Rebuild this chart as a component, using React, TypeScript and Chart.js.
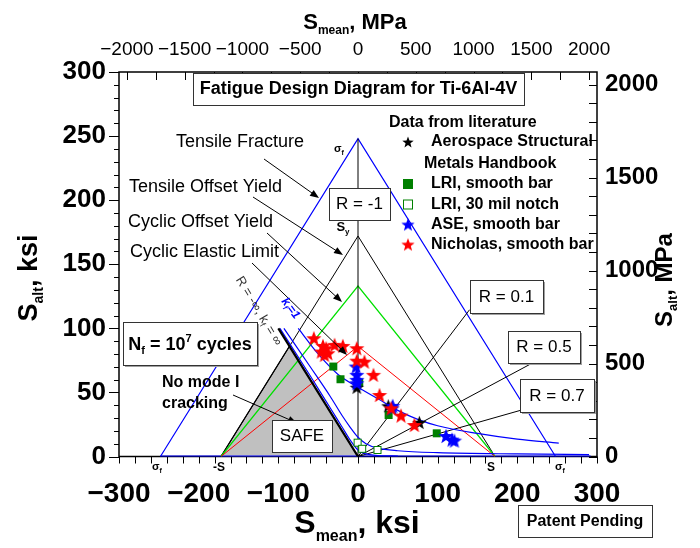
import React, { useEffect, useRef } from 'react';
import { Chart, registerables } from 'chart.js';

Chart.register(...registerables);

const FONT = '"Liberation Sans", Arial, Helvetica, sans-serif';
const MPA_PER_KSI = 6.89476;

// ---- axes (ksi on bottom/left, MPa on top/right) ----
const xMinKsi = -300;
const xMaxKsi = 300;
const yMinKsi = 0;
const yMaxKsi = 300;
const bottomLabelValues = [-300, -200, -100, 0, 100, 200, 300];
const leftLabelValues = [0, 50, 100, 150, 200, 250, 300];
const topTickValues = [-2000, -1750, -1500, -1250, -1000, -750, -500, -250, 0, 250, 500, 750, 1000, 1250, 1500, 1750, 2000];
const topLabelValues = [-2000, -1500, -1000, -500, 0, 500, 1000, 1500, 2000];
const rightTickValues = [0, 100, 200, 300, 400, 500, 600, 700, 800, 900, 1000, 1100, 1200, 1300, 1400, 1500, 1600, 1700, 1800, 1900, 2000];
const rightLabelValues = [0, 500, 1000, 1500, 2000];

// ---- envelope lines (Smean, Salt in ksi) ----
const fractureMean = [-248, 0, 248];
const fractureAlt = [0, 248, 0];
const tensileYieldMean = [-172, 0, 172];
const tensileYieldAlt = [0, 172, 0];
const cyclicYieldMean = [-172, 0, 172];
const cyclicYieldAlt = [0, 133, 0];
const elasticLimitMean = [-172, 0, 172];
const elasticLimitAlt = [0, 86, 0];
const safeMean = [-172, -86, 0];
const safeAlt = [0, 86, 0];
const rMinusInfMean = [-100, 0];
const rMinusInfAlt = [100, 0];
const rMinusOneMean = [0, 0];
const rMinusOneAlt = [0, 248];
const rRatioEndMean = [140, 217, 205];
const rRatioEndAlt = [114.5, 72.3, 36.2];
const kf1Mean = [-75, -50, -25, 0, 25, 50, 75, 100, 150, 200, 252];
const kf1Alt = [100, 80, 64, 54, 45, 36, 29, 24, 18, 13.5, 10.5];
const kfMidMean = [-93, -60, -35, -20, -10, 0, 10, 25, 50, 100, 200, 290];
const kfMidAlt = [100, 70, 47, 32, 23, 15, 10, 6.5, 4.5, 3, 2, 1.5];
const kfInfMean = [-98, -60, -35, -20, -10, 0, 10, 25, 50];
const kfInfAlt = [100, 63, 38, 23, 13, 5, 2, 0.8, 0.3];
const baselineMean = [-248, 292];
const baselineAlt = [0, 0];

// ---- literature data (Smean, Salt in ksi) ----
const asmhMean = [-1.5, 38, 77];
const asmhAlt = [54, 39.5, 26.6];
const lriSmoothMean = [-31, -22, 1.5, 38.4, 98.8];
const lriSmoothAlt = [70.2, 60.3, 57.5, 32.4, 18.1];
const lriNotchMean = [-0.5, 5.2, 24.4];
const lriNotchAlt = [10.8, 6, 5.1];
const aseMean = [-2.3, -1.5, -1.5, -1.5, 43.6, 42.8, 110.5, 121, 118];
const aseAlt = [70.2, 63.7, 59.8, 57.2, 39.5, 37.6, 16, 12.4, 13.2];
const nicholasMean = [-55.4, -44, -46, -37.8, -42, -40, -29.4, -19, -1.5, -1.5, 8.1, 19.4, 27, 41.6, 54, 70.8];
const nicholasAlt = [92.3, 86.3, 81.9, 80.6, 79.3, 84.5, 87.1, 86.3, 84.5, 74.8, 74, 63.7, 48, 37.6, 31.9, 24.6];

const pts = (xs: number[], ys: number[]) => xs.map((x, i) => ({ x, y: ys[i] }));
const fmt = (v: number) => (v < 0 ? '\u2212' + Math.abs(v) : String(v));
const near = (arr: number[], v: number) => arr.some((a) => Math.abs(a - v) < 1e-6);

function makeStar(color: string, R: number) {
  const r = R * 0.42;
  const size = Math.ceil(R * 2 + 2);
  const c = document.createElement('canvas');
  c.width = size;
  c.height = size;
  const g = c.getContext('2d')!;
  g.translate(size / 2, size / 2 + R * 0.095);
  g.beginPath();
  for (let i = 0; i < 10; i++) {
    const ang = -Math.PI / 2 + (i * Math.PI) / 5;
    const rad = i % 2 === 0 ? R : r;
    const px = Math.cos(ang) * rad;
    const py = Math.sin(ang) * rad;
    if (i === 0) g.moveTo(px, py);
    else g.lineTo(px, py);
  }
  g.closePath();
  g.fillStyle = color;
  g.fill();
  return c;
}

function makeSquare(fill: string, stroke: string, side: number) {
  const size = side + 2;
  const c = document.createElement('canvas');
  c.width = size;
  c.height = size;
  const g = c.getContext('2d')!;
  g.fillStyle = fill;
  g.fillRect(1, 1, side, side);
  if (stroke) {
    g.strokeStyle = stroke;
    g.lineWidth = 1;
    g.strokeRect(1.5, 1.5, side - 1, side - 1);
  }
  return c;
}

function font(size: number, weight = 'normal', style = 'normal') {
  return `${style} ${weight} ${size}px ${FONT}`;
}

type Part = { t: string; size: number; weight?: string; style?: string; dy?: number; color?: string };

function drawRich(ctx: CanvasRenderingContext2D, parts: Part[], x: number, y: number, align: 'left' | 'center') {
  let w = 0;
  for (const p of parts) {
    ctx.font = font(p.size, p.weight || 'normal', p.style || 'normal');
    w += ctx.measureText(p.t).width;
  }
  let cx = align === 'center' ? x - w / 2 : x;
  ctx.textAlign = 'left';
  ctx.textBaseline = 'alphabetic';
  for (const p of parts) {
    ctx.font = font(p.size, p.weight || 'normal', p.style || 'normal');
    ctx.fillStyle = p.color || '#000';
    ctx.fillText(p.t, cx, y + (p.dy || 0));
    cx += ctx.measureText(p.t).width;
  }
}

function text(ctx: CanvasRenderingContext2D, s: string, x: number, y: number, f: string, align: CanvasTextAlign = 'left', color = '#000') {
  ctx.font = f;
  ctx.fillStyle = color;
  ctx.textAlign = align;
  ctx.textBaseline = 'middle';
  ctx.fillText(s, x, y);
}

function box(ctx: CanvasRenderingContext2D, x: number, y: number, w: number, h: number, shadow = true) {
  if (shadow) {
    ctx.fillStyle = '#a0a0a0';
    ctx.fillRect(x + 2, y + 2, w, h);
  }
  ctx.fillStyle = '#fff';
  ctx.fillRect(x, y, w, h);
  ctx.strokeStyle = '#333';
  ctx.lineWidth = 1;
  ctx.strokeRect(x + 0.5, y + 0.5, w, h);
}

function arrow(ctx: CanvasRenderingContext2D, x1: number, y1: number, x2: number, y2: number) {
  const ang = Math.atan2(y2 - y1, x2 - x1);
  const L = 9;
  const W = 3.5;
  ctx.strokeStyle = '#000';
  ctx.fillStyle = '#000';
  ctx.lineWidth = 1;
  ctx.beginPath();
  ctx.moveTo(x1, y1);
  ctx.lineTo(x2 - Math.cos(ang) * L * 0.8, y2 - Math.sin(ang) * L * 0.8);
  ctx.stroke();
  ctx.beginPath();
  ctx.moveTo(x2, y2);
  ctx.lineTo(x2 - Math.cos(ang) * L - Math.sin(ang) * W, y2 - Math.sin(ang) * L + Math.cos(ang) * W);
  ctx.lineTo(x2 - Math.cos(ang) * L + Math.sin(ang) * W, y2 - Math.sin(ang) * L - Math.cos(ang) * W);
  ctx.closePath();
  ctx.fill();
}

export default function App() {
  const ref = useRef<HTMLCanvasElement>(null);

  useEffect(() => {
    const canvas = ref.current!;
    const starBlack = makeStar('#000000', 7.5);
    const starBlue = makeStar('#0000ff', 8);
    const starRed = makeStar('#ff0000', 8);
    const sqFilled = makeSquare('#008000', '', 8);
    const sqOpen = makeSquare('#ffffff', '#008000', 8);
    const legStarBlack = makeStar('#000000', 6);
    const legStarBlue = makeStar('#0000ff', 7);
    const legStarRed = makeStar('#ff0000', 7);
    const legSqFilled = makeSquare('#008000', '', 10);
    const legSqOpen = makeSquare('#ffffff', '#008000', 10);

    const markers = (label: string, xs: number[], ys: number[], img: HTMLCanvasElement) => ({
      label,
      data: pts(xs, ys),
      showLine: false,
      pointStyle: img,
      pointRadius: 7,
      pointHoverRadius: 7,
      xAxisID: 'x',
      yAxisID: 'y',
    });
    const line = (label: string, xs: number[], ys: number[], color: string, width: number, extra: any = {}) => ({
      label,
      data: pts(xs, ys),
      showLine: true,
      borderColor: color,
      backgroundColor: color,
      borderWidth: width,
      pointRadius: 0,
      pointHoverRadius: 0,
      fill: false,
      tension: 0,
      xAxisID: 'x',
      yAxisID: 'y',
      ...extra,
    });
    const smooth = { cubicInterpolationMode: 'monotone' };

    const datasets: any[] = [
      markers('Nicholas, smooth bar', nicholasMean, nicholasAlt, starRed),
      markers('ASE, smooth bar', aseMean, aseAlt, starBlue),
      markers('Aerospace Structural Metals Handbook', asmhMean, asmhAlt, starBlack),
      markers('LRI, smooth bar', lriSmoothMean, lriSmoothAlt, sqFilled),
      markers('LRI, 30 mil notch', lriNotchMean, lriNotchAlt, sqOpen),
      line('R = -inf', rMinusInfMean, rMinusInfAlt, '#000000', 2.2),
      line('kf = 1', kf1Mean, kf1Alt, '#0000ff', 1.2, smooth),
      line('kf mid', kfMidMean, kfMidAlt, '#0000ff', 1.2, smooth),
      line('kf = inf', kfInfMean, kfInfAlt, '#0000ff', 1.2, smooth),
      line('R = -1', rMinusOneMean, rMinusOneAlt, '#000000', 1),
      line('R = 0.1', [0, rRatioEndMean[0]], [0, rRatioEndAlt[0]], '#000000', 1),
      line('R = 0.5', [0, rRatioEndMean[1]], [0, rRatioEndAlt[1]], '#000000', 1),
      line('R = 0.7', [0, rRatioEndMean[2]], [0, rRatioEndAlt[2]], '#000000', 1),
      line('Cyclic Elastic Limit', elasticLimitMean, elasticLimitAlt, '#ff0000', 1),
      line('Cyclic Offset Yield', cyclicYieldMean, cyclicYieldAlt, '#00e000', 1.2),
      line('Tensile Offset Yield', tensileYieldMean, tensileYieldAlt, '#000000', 1),
      line('Tensile Fracture', fractureMean, fractureAlt, '#0000ff', 1.2),
      line('baseline', baselineMean, baselineAlt, '#0000ff', 2.2),
      line('SAFE', safeMean, safeAlt, '#000000', 1.3, { fill: 'origin', backgroundColor: '#c0c0c0' }),
    ];

    const framePlugin = {
      id: 'frameAndNotes',
      beforeDatasetsDraw(chart: any) {
        const { ctx, chartArea: a, scales } = chart;
        ctx.save();
        ctx.strokeStyle = '#000';
        ctx.lineWidth = 1;
        const seg = (x1: number, y1: number, x2: number, y2: number) => {
          ctx.beginPath();
          ctx.moveTo(x1, y1);
          ctx.lineTo(x2, y2);
          ctx.stroke();
        };
        scales.x.ticks.forEach((t: any) => {
          const px = Math.round(scales.x.getPixelForValue(t.value)) + 0.5;
          seg(px, a.bottom, px, a.bottom + 7);
        });
        scales.y.ticks.forEach((t: any) => {
          const py = Math.round(scales.y.getPixelForValue(t.value)) + 0.5;
          const len = near(leftLabelValues, t.value) ? 10 : 5;
          seg(a.left - len, py, a.left, py);
        });
        scales.x2.ticks.forEach((t: any) => {
          const px = Math.round(scales.x2.getPixelForValue(t.value)) + 0.5;
          seg(px, a.top, px, a.top + 8);
        });
        scales.y2.ticks.forEach((t: any) => {
          const py = Math.round(scales.y2.getPixelForValue(t.value)) + 0.5;
          seg(a.right - 8, py, a.right, py);
        });
        ctx.lineWidth = 1.5;
        ctx.strokeRect(a.left, a.top, a.right - a.left, a.bottom - a.top);
        ctx.restore();
      },
      afterDatasetsDraw(chart: any) {
        const ctx: CanvasRenderingContext2D = chart.ctx;
        ctx.save();

        // title
        box(ctx, 193, 73, 331, 32, false);
        text(ctx, 'Fatigue Design Diagram for Ti-6Al-4V', 358.5, 89.5, font(18, 'bold'), 'center');

        // legend
        text(ctx, 'Data from literature', 389, 122.5, font(16, 'bold'));
        const legImgs = [legStarBlack, legSqFilled, legSqOpen, legStarBlue, legStarRed];
        const legRows = [142, 184, 204.5, 224.5, 244.5];
        const legText = ['Aerospace Structural', 'LRI, smooth bar', 'LRI, 30 mil notch', 'ASE, smooth bar', 'Nicholas, smooth bar'];
        legImgs.forEach((img, i) => {
          ctx.drawImage(img, 408 - img.width / 2, legRows[i] - img.height / 2);
          text(ctx, legText[i], 431, legRows[i], font(16, 'bold'));
        });
        text(ctx, 'Metals Handbook', 424, 163.5, font(16, 'bold'));

        // curve labels and arrows
        text(ctx, 'Tensile Fracture', 176, 142.5, font(18));
        text(ctx, 'Tensile Offset Yield', 129, 187, font(18));
        text(ctx, 'Cyclic Offset Yield', 128, 222, font(18));
        text(ctx, 'Cyclic Elastic Limit', 130, 252.5, font(18));
        arrow(ctx, 264, 159, 319, 198);
        arrow(ctx, 253, 197, 343, 255);
        arrow(ctx, 267, 233, 342, 302);
        arrow(ctx, 252, 263, 347, 355);

        // R boxes
        box(ctx, 329, 188, 61, 32, false);
        text(ctx, 'R = -1', 359.5, 204.5, font(17), 'center');
        box(ctx, 470, 280, 73, 33);
        text(ctx, 'R = 0.1', 506.5, 297, font(17), 'center');
        box(ctx, 508, 331, 72, 32);
        text(ctx, 'R = 0.5', 544, 347.5, font(17), 'center');
        box(ctx, 520, 379, 74, 33);
        text(ctx, 'R = 0.7', 557, 396, font(17), 'center');

        // Nf box
        box(ctx, 123, 322, 134, 43);
        drawRich(ctx, [
          { t: 'N', size: 18, weight: 'bold' },
          { t: 'f', size: 11, weight: 'bold', dy: 4 },
          { t: ' = 10', size: 18, weight: 'bold' },
          { t: '7', size: 11, weight: 'bold', dy: -8 },
          { t: ' cycles', size: 18, weight: 'bold' },
        ], 190, 350, 'center');

        // no mode I cracking
        text(ctx, 'No mode I', 162, 383, font(16, 'bold'));
        text(ctx, 'cracking', 162, 404, font(16, 'bold'));
        arrow(ctx, 233, 395, 297, 423);

        // SAFE
        box(ctx, 272, 420, 60, 32, false);
        text(ctx, 'SAFE', 302, 436.5, font(17), 'center');

        // point labels
        drawRich(ctx, [
          { t: '\u03c3', size: 11, weight: 'bold' },
          { t: 'f', size: 7, weight: 'bold', dy: 3 },
        ], 339, 152, 'center');
        drawRich(ctx, [
          { t: 'S', size: 13, weight: 'bold' },
          { t: 'y', size: 8, weight: 'bold', dy: 3 },
        ], 343, 231, 'center');
        drawRich(ctx, [
          { t: '\u03c3', size: 11, weight: 'bold' },
          { t: 'f', size: 7, weight: 'bold', dy: 3 },
        ], 157, 470, 'center');
        drawRich(ctx, [
          { t: '\u03c3', size: 11, weight: 'bold' },
          { t: 'f', size: 7, weight: 'bold', dy: 3 },
        ], 560, 470, 'center');
        drawRich(ctx, [{ t: '-S', size: 12, weight: 'bold' }], 219, 471, 'center');
        drawRich(ctx, [{ t: 'S', size: 12, weight: 'bold' }], 491, 471, 'center');

        // rotated labels along the -inf line
        ctx.save();
        ctx.translate(259, 311);
        ctx.rotate((59 * Math.PI) / 180);
        drawRich(ctx, [
          { t: 'R = -\u221e, k', size: 13, color: '#333' },
          { t: 'f', size: 9, color: '#333', dy: 3 },
          { t: ' = \u221e', size: 13, color: '#333' },
        ], 0, 4, 'center');
        ctx.restore();
        ctx.save();
        ctx.translate(291, 308);
        ctx.rotate((53 * Math.PI) / 180);
        drawRich(ctx, [
          { t: 'k', size: 12, weight: 'bold', style: 'italic', color: '#0000ff' },
          { t: 'f', size: 8, weight: 'bold', style: 'italic', color: '#0000ff', dy: 3 },
          { t: '=1', size: 12, weight: 'bold', style: 'italic', color: '#0000ff' },
        ], 0, 4, 'center');
        ctx.restore();

        // axis titles
        drawRich(ctx, [
          { t: 'S', size: 22, weight: 'bold' },
          { t: 'mean', size: 12, weight: 'bold', dy: 5 },
          { t: ', MPa', size: 22, weight: 'bold' },
        ], 355, 28.5, 'center');
        drawRich(ctx, [
          { t: 'S', size: 32, weight: 'bold' },
          { t: 'mean', size: 16, weight: 'bold', dy: 8 },
          { t: ', ksi', size: 32, weight: 'bold' },
        ], 357, 533, 'center');
        ctx.save();
        ctx.translate(37, 278);
        ctx.rotate(-Math.PI / 2);
        drawRich(ctx, [
          { t: 'S', size: 27, weight: 'bold' },
          { t: 'alt', size: 14, weight: 'bold', dy: 6 },
          { t: ', ksi', size: 27, weight: 'bold' },
        ], 0, 0, 'center');
        ctx.restore();
        ctx.save();
        ctx.translate(672, 280);
        ctx.rotate(-Math.PI / 2);
        drawRich(ctx, [
          { t: 'S', size: 24, weight: 'bold' },
          { t: 'alt', size: 13, weight: 'bold', dy: 5 },
          { t: ', MPa', size: 24, weight: 'bold' },
        ], 0, 0, 'center');
        ctx.restore();

        // patent pending
        box(ctx, 518, 505, 134, 32, false);
        text(ctx, 'Patent Pending', 585, 521.5, font(16, 'bold'), 'center');

        ctx.restore();
      },
    };

    const common = {
      grid: { display: false, drawTicks: false },
      border: { display: false },
    };

    const chart = new Chart(canvas, {
      type: 'scatter',
      data: { datasets },
      options: {
        animation: false,
        responsive: false,
        maintainAspectRatio: false,
        events: [],
        layout: { padding: 0 },
        plugins: { legend: { display: false }, tooltip: { enabled: false } },
        scales: {
          x: {
            type: 'linear',
            position: 'bottom',
            min: xMinKsi,
            max: xMaxKsi,
            ...common,
            ticks: {
              stepSize: 20,
              autoSkip: false,
              maxRotation: 0,
              padding: 21,
              color: '#000',
              font: { family: FONT, size: 28, weight: 'bold' },
              callback: (v: any) => (near(bottomLabelValues, Number(v)) ? fmt(Math.round(Number(v))) : ''),
            },
            afterFit: (s: any) => { s.height = 91.5; },
          },
          x2: {
            type: 'linear',
            position: 'top',
            bounds: 'data',
            min: xMinKsi * MPA_PER_KSI,
            max: xMaxKsi * MPA_PER_KSI,
            ...common,
            afterBuildTicks: (s: any) => { s.ticks = topTickValues.map((value) => ({ value })); },
            ticks: {
              autoSkip: false,
              maxRotation: 0,
              padding: 11,
              color: '#000',
              font: { family: FONT, size: 19, weight: 'normal' },
              callback: (v: any) => (near(topLabelValues, Number(v)) ? fmt(Math.round(Number(v))) : ''),
            },
            afterFit: (s: any) => { s.height = 72; },
          },
          y: {
            type: 'linear',
            position: 'left',
            min: yMinKsi,
            max: yMaxKsi,
            ...common,
            ticks: {
              stepSize: 10,
              autoSkip: false,
              padding: 13,
              color: '#000',
              font: { family: FONT, size: 26, weight: 'bold' },
              callback: (v: any) => (near(leftLabelValues, Number(v)) ? fmt(Math.round(Number(v))) : ''),
            },
            afterFit: (s: any) => { s.width = 119; },
          },
          y2: {
            type: 'linear',
            position: 'right',
            bounds: 'data',
            min: yMinKsi * MPA_PER_KSI,
            max: yMaxKsi * MPA_PER_KSI,
            ...common,
            afterBuildTicks: (s: any) => { s.ticks = rightTickValues.map((value) => ({ value })); },
            ticks: {
              autoSkip: false,
              padding: 8,
              color: '#000',
              font: { family: FONT, size: 24, weight: 'bold' },
              callback: (v: any) => (near(rightLabelValues, Number(v)) ? fmt(Math.round(Number(v))) : ''),
            },
            afterFit: (s: any) => { s.width = 103; },
          },
        },
      } as any,
      plugins: [framePlugin],
    });

    return () => chart.destroy();
  }, []);

  return (
    <div style={{ position: 'fixed', left: 0, top: 0, width: 700, height: 548, background: '#fff' }}>
      <canvas ref={ref} width={700} height={548} style={{ width: 700, height: 548, display: 'block' }} />
    </div>
  );
}
